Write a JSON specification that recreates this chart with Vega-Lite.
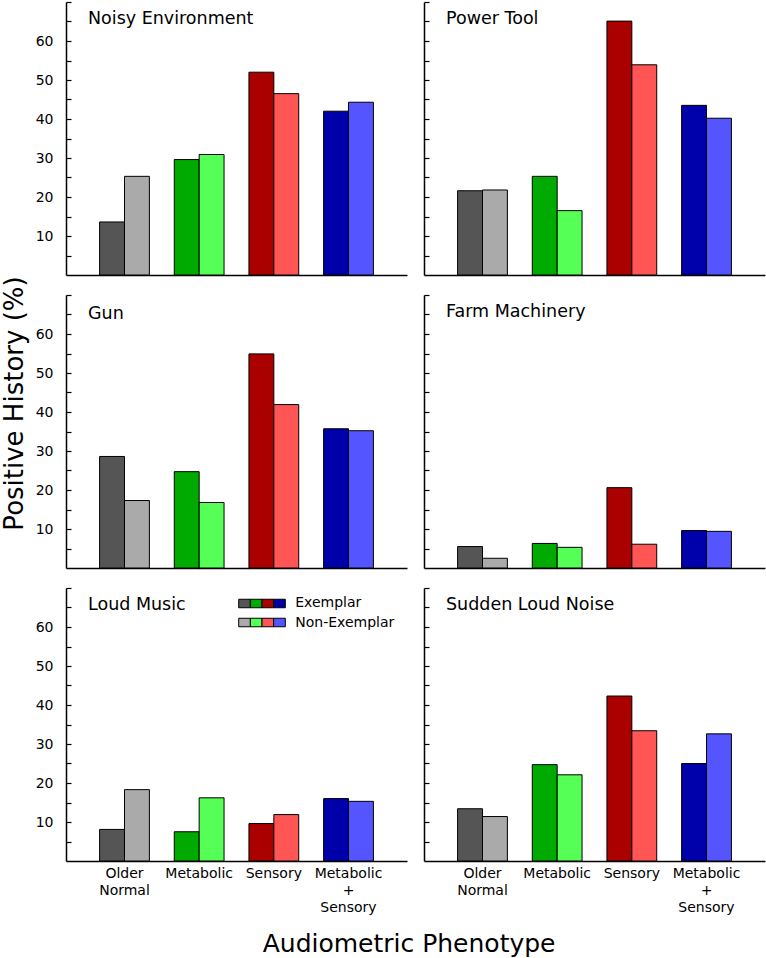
{
  "$schema": "https://vega.github.io/schema/vega-lite/v6.json",
  "padding": {"left": 1, "top": 1, "right": 2, "bottom": 2},
  "datasets": {
    "bars": [
      {"panel": "Noisy Environment", "phenotype": "Older Normal", "group": "Exemplar", "key": "Older Normal Exemplar", "pct": 13.6},
      {"panel": "Noisy Environment", "phenotype": "Older Normal", "group": "Non-Exemplar", "key": "Older Normal Non-Exemplar", "pct": 25.3},
      {"panel": "Noisy Environment", "phenotype": "Metabolic", "group": "Exemplar", "key": "Metabolic Exemplar", "pct": 29.6},
      {"panel": "Noisy Environment", "phenotype": "Metabolic", "group": "Non-Exemplar", "key": "Metabolic Non-Exemplar", "pct": 30.9},
      {"panel": "Noisy Environment", "phenotype": "Sensory", "group": "Exemplar", "key": "Sensory Exemplar", "pct": 52.0},
      {"panel": "Noisy Environment", "phenotype": "Sensory", "group": "Non-Exemplar", "key": "Sensory Non-Exemplar", "pct": 46.5},
      {"panel": "Noisy Environment", "phenotype": "Metabolic + Sensory", "group": "Exemplar", "key": "Metabolic + Sensory Exemplar", "pct": 42.0},
      {"panel": "Noisy Environment", "phenotype": "Metabolic + Sensory", "group": "Non-Exemplar", "key": "Metabolic + Sensory Non-Exemplar", "pct": 44.3},

      {"panel": "Power Tool", "phenotype": "Older Normal", "group": "Exemplar", "key": "Older Normal Exemplar", "pct": 21.6},
      {"panel": "Power Tool", "phenotype": "Older Normal", "group": "Non-Exemplar", "key": "Older Normal Non-Exemplar", "pct": 21.8},
      {"panel": "Power Tool", "phenotype": "Metabolic", "group": "Exemplar", "key": "Metabolic Exemplar", "pct": 25.3},
      {"panel": "Power Tool", "phenotype": "Metabolic", "group": "Non-Exemplar", "key": "Metabolic Non-Exemplar", "pct": 16.5},
      {"panel": "Power Tool", "phenotype": "Sensory", "group": "Exemplar", "key": "Sensory Exemplar", "pct": 65.1},
      {"panel": "Power Tool", "phenotype": "Sensory", "group": "Non-Exemplar", "key": "Sensory Non-Exemplar", "pct": 53.9},
      {"panel": "Power Tool", "phenotype": "Metabolic + Sensory", "group": "Exemplar", "key": "Metabolic + Sensory Exemplar", "pct": 43.5},
      {"panel": "Power Tool", "phenotype": "Metabolic + Sensory", "group": "Non-Exemplar", "key": "Metabolic + Sensory Non-Exemplar", "pct": 40.2},

      {"panel": "Gun", "phenotype": "Older Normal", "group": "Exemplar", "key": "Older Normal Exemplar", "pct": 28.6},
      {"panel": "Gun", "phenotype": "Older Normal", "group": "Non-Exemplar", "key": "Older Normal Non-Exemplar", "pct": 17.3},
      {"panel": "Gun", "phenotype": "Metabolic", "group": "Exemplar", "key": "Metabolic Exemplar", "pct": 24.7},
      {"panel": "Gun", "phenotype": "Metabolic", "group": "Non-Exemplar", "key": "Metabolic Non-Exemplar", "pct": 16.8},
      {"panel": "Gun", "phenotype": "Sensory", "group": "Exemplar", "key": "Sensory Exemplar", "pct": 54.9},
      {"panel": "Gun", "phenotype": "Sensory", "group": "Non-Exemplar", "key": "Sensory Non-Exemplar", "pct": 41.9},
      {"panel": "Gun", "phenotype": "Metabolic + Sensory", "group": "Exemplar", "key": "Metabolic + Sensory Exemplar", "pct": 35.7},
      {"panel": "Gun", "phenotype": "Metabolic + Sensory", "group": "Non-Exemplar", "key": "Metabolic + Sensory Non-Exemplar", "pct": 35.2},

      {"panel": "Farm Machinery", "phenotype": "Older Normal", "group": "Exemplar", "key": "Older Normal Exemplar", "pct": 5.5},
      {"panel": "Farm Machinery", "phenotype": "Older Normal", "group": "Non-Exemplar", "key": "Older Normal Non-Exemplar", "pct": 2.5},
      {"panel": "Farm Machinery", "phenotype": "Metabolic", "group": "Exemplar", "key": "Metabolic Exemplar", "pct": 6.3},
      {"panel": "Farm Machinery", "phenotype": "Metabolic", "group": "Non-Exemplar", "key": "Metabolic Non-Exemplar", "pct": 5.3},
      {"panel": "Farm Machinery", "phenotype": "Sensory", "group": "Exemplar", "key": "Sensory Exemplar", "pct": 20.6},
      {"panel": "Farm Machinery", "phenotype": "Sensory", "group": "Non-Exemplar", "key": "Sensory Non-Exemplar", "pct": 6.1},
      {"panel": "Farm Machinery", "phenotype": "Metabolic + Sensory", "group": "Exemplar", "key": "Metabolic + Sensory Exemplar", "pct": 9.6},
      {"panel": "Farm Machinery", "phenotype": "Metabolic + Sensory", "group": "Non-Exemplar", "key": "Metabolic + Sensory Non-Exemplar", "pct": 9.4},

      {"panel": "Loud Music", "phenotype": "Older Normal", "group": "Exemplar", "key": "Older Normal Exemplar", "pct": 8.1},
      {"panel": "Loud Music", "phenotype": "Older Normal", "group": "Non-Exemplar", "key": "Older Normal Non-Exemplar", "pct": 18.3},
      {"panel": "Loud Music", "phenotype": "Metabolic", "group": "Exemplar", "key": "Metabolic Exemplar", "pct": 7.5},
      {"panel": "Loud Music", "phenotype": "Metabolic", "group": "Non-Exemplar", "key": "Metabolic Non-Exemplar", "pct": 16.2},
      {"panel": "Loud Music", "phenotype": "Sensory", "group": "Exemplar", "key": "Sensory Exemplar", "pct": 9.6},
      {"panel": "Loud Music", "phenotype": "Sensory", "group": "Non-Exemplar", "key": "Sensory Non-Exemplar", "pct": 11.9},
      {"panel": "Loud Music", "phenotype": "Metabolic + Sensory", "group": "Exemplar", "key": "Metabolic + Sensory Exemplar", "pct": 16.0},
      {"panel": "Loud Music", "phenotype": "Metabolic + Sensory", "group": "Non-Exemplar", "key": "Metabolic + Sensory Non-Exemplar", "pct": 15.3},

      {"panel": "Sudden Loud Noise", "phenotype": "Older Normal", "group": "Exemplar", "key": "Older Normal Exemplar", "pct": 13.4},
      {"panel": "Sudden Loud Noise", "phenotype": "Older Normal", "group": "Non-Exemplar", "key": "Older Normal Non-Exemplar", "pct": 11.4},
      {"panel": "Sudden Loud Noise", "phenotype": "Metabolic", "group": "Exemplar", "key": "Metabolic Exemplar", "pct": 24.7},
      {"panel": "Sudden Loud Noise", "phenotype": "Metabolic", "group": "Non-Exemplar", "key": "Metabolic Non-Exemplar", "pct": 22.1},
      {"panel": "Sudden Loud Noise", "phenotype": "Sensory", "group": "Exemplar", "key": "Sensory Exemplar", "pct": 42.3},
      {"panel": "Sudden Loud Noise", "phenotype": "Sensory", "group": "Non-Exemplar", "key": "Sensory Non-Exemplar", "pct": 33.4},
      {"panel": "Sudden Loud Noise", "phenotype": "Metabolic + Sensory", "group": "Exemplar", "key": "Metabolic + Sensory Exemplar", "pct": 25.0},
      {"panel": "Sudden Loud Noise", "phenotype": "Metabolic + Sensory", "group": "Non-Exemplar", "key": "Metabolic + Sensory Non-Exemplar", "pct": 32.6}
    ]
  },
  "title": {
    "text": "Audiometric Phenotype",
    "orient": "bottom",
    "anchor": "middle",
    "frame": "bounds",
    "fontSize": 25,
    "fontWeight": "normal",
    "baseline": "top",
    "offset": 18,
    "dx": 26,
    "dy": 0,
    "color": "black"
  },
  "columns": 2,
  "spacing": {"row": 20, "column": 17},
  "bounds": "flush",
  "resolve": {
    "scale": {"fill": "independent", "x": "independent", "y": "independent", "xOffset": "independent"},
    "axis": {"x": "independent", "y": "independent"},
    "legend": {"fill": "independent"}
  },
  "concat": [
    {
      "width": 341, "height": 273,
      "data": {"name": "bars"},
      "transform": [{"filter": "datum.panel == 'Noisy Environment'"}],
      "title": {"text": "Noisy Environment"},
      "mark": {"type": "bar", "stroke": "black", "strokeWidth": 1},
      "encoding": {
        "x": {"field": "phenotype", "type": "nominal", "sort": null,
              "scale": {"domain": ["Older Normal", "Metabolic", "Sensory", "Metabolic + Sensory"], "paddingInner": 0.3333, "paddingOuter": 0.45},
              "axis": {"title": null, "ticks": false, "labels": false}},
        "xOffset": {"field": "group", "type": "nominal", "scale": {"domain": ["Exemplar", "Non-Exemplar"], "paddingInner": 0, "paddingOuter": 0}},
        "y": {"field": "pct", "type": "quantitative",
              "scale": {"domain": [0, 70], "nice": false, "zero": true},
              "axis": {"title": null, "values": [5, 10, 15, 20, 25, 30, 35, 40, 45, 50, 55, 60, 65, 70], "labelExpr": "datum.value % 10 === 0 && datum.value < 70 ? datum.label : ''", "tickSize": -5, "labelPadding": 18}},
        "fill": {"field": "key", "type": "nominal",
                 "scale": {"domain": ["Older Normal Exemplar", "Older Normal Non-Exemplar", "Metabolic Exemplar", "Metabolic Non-Exemplar", "Sensory Exemplar", "Sensory Non-Exemplar", "Metabolic + Sensory Exemplar", "Metabolic + Sensory Non-Exemplar"],
                           "range": ["#555555", "#aaaaaa", "#00aa00", "#55ff55", "#aa0000", "#ff5555", "#0000aa", "#5555ff"]},
                 "legend": null}
      }
    },
    {
      "width": 341, "height": 273,
      "data": {"name": "bars"},
      "transform": [{"filter": "datum.panel == 'Power Tool'"}],
      "title": {"text": "Power Tool"},
      "mark": {"type": "bar", "stroke": "black", "strokeWidth": 1},
      "encoding": {
        "x": {"field": "phenotype", "type": "nominal", "sort": null,
              "scale": {"domain": ["Older Normal", "Metabolic", "Sensory", "Metabolic + Sensory"], "paddingInner": 0.3333, "paddingOuter": 0.45},
              "axis": {"title": null, "ticks": false, "labels": false}},
        "xOffset": {"field": "group", "type": "nominal", "scale": {"domain": ["Exemplar", "Non-Exemplar"], "paddingInner": 0, "paddingOuter": 0}},
        "y": {"field": "pct", "type": "quantitative",
              "scale": {"domain": [0, 70], "nice": false, "zero": true},
              "axis": {"title": null, "values": [5, 10, 15, 20, 25, 30, 35, 40, 45, 50, 55, 60, 65, 70], "labels": false, "tickSize": -5}},
        "fill": {"field": "key", "type": "nominal",
                 "scale": {"domain": ["Older Normal Exemplar", "Older Normal Non-Exemplar", "Metabolic Exemplar", "Metabolic Non-Exemplar", "Sensory Exemplar", "Sensory Non-Exemplar", "Metabolic + Sensory Exemplar", "Metabolic + Sensory Non-Exemplar"],
                           "range": ["#555555", "#aaaaaa", "#00aa00", "#55ff55", "#aa0000", "#ff5555", "#0000aa", "#5555ff"]},
                 "legend": null}
      }
    },
    {
      "width": 341, "height": 273,
      "data": {"name": "bars"},
      "transform": [{"filter": "datum.panel == 'Gun'"}],
      "title": {"text": "Gun", "offset": -46.5},
      "mark": {"type": "bar", "stroke": "black", "strokeWidth": 1},
      "encoding": {
        "x": {"field": "phenotype", "type": "nominal", "sort": null,
              "scale": {"domain": ["Older Normal", "Metabolic", "Sensory", "Metabolic + Sensory"], "paddingInner": 0.3333, "paddingOuter": 0.45},
              "axis": {"title": null, "ticks": false, "labels": false}},
        "xOffset": {"field": "group", "type": "nominal", "scale": {"domain": ["Exemplar", "Non-Exemplar"], "paddingInner": 0, "paddingOuter": 0}},
        "y": {"field": "pct", "type": "quantitative",
              "scale": {"domain": [0, 70], "nice": false, "zero": true},
              "axis": {"title": "Positive History (%)", "titleFontSize": 26, "titleFontWeight": "normal", "titlePadding": 8, "titleY": 108,
                       "values": [5, 10, 15, 20, 25, 30, 35, 40, 45, 50, 55, 60, 65, 70], "labelExpr": "datum.value % 10 === 0 && datum.value < 70 ? datum.label : ''", "tickSize": -5, "labelPadding": 18}},
        "fill": {"field": "key", "type": "nominal",
                 "scale": {"domain": ["Older Normal Exemplar", "Older Normal Non-Exemplar", "Metabolic Exemplar", "Metabolic Non-Exemplar", "Sensory Exemplar", "Sensory Non-Exemplar", "Metabolic + Sensory Exemplar", "Metabolic + Sensory Non-Exemplar"],
                           "range": ["#555555", "#aaaaaa", "#00aa00", "#55ff55", "#aa0000", "#ff5555", "#0000aa", "#5555ff"]},
                 "legend": null}
      }
    },
    {
      "width": 341, "height": 273,
      "data": {"name": "bars"},
      "transform": [{"filter": "datum.panel == 'Farm Machinery'"}],
      "title": {"text": "Farm Machinery"},
      "mark": {"type": "bar", "stroke": "black", "strokeWidth": 1},
      "encoding": {
        "x": {"field": "phenotype", "type": "nominal", "sort": null,
              "scale": {"domain": ["Older Normal", "Metabolic", "Sensory", "Metabolic + Sensory"], "paddingInner": 0.3333, "paddingOuter": 0.45},
              "axis": {"title": null, "ticks": false, "labels": false}},
        "xOffset": {"field": "group", "type": "nominal", "scale": {"domain": ["Exemplar", "Non-Exemplar"], "paddingInner": 0, "paddingOuter": 0}},
        "y": {"field": "pct", "type": "quantitative",
              "scale": {"domain": [0, 70], "nice": false, "zero": true},
              "axis": {"title": null, "values": [5, 10, 15, 20, 25, 30, 35, 40, 45, 50, 55, 60, 65, 70], "labels": false, "tickSize": -5}},
        "fill": {"field": "key", "type": "nominal",
                 "scale": {"domain": ["Older Normal Exemplar", "Older Normal Non-Exemplar", "Metabolic Exemplar", "Metabolic Non-Exemplar", "Sensory Exemplar", "Sensory Non-Exemplar", "Metabolic + Sensory Exemplar", "Metabolic + Sensory Non-Exemplar"],
                           "range": ["#555555", "#aaaaaa", "#00aa00", "#55ff55", "#aa0000", "#ff5555", "#0000aa", "#5555ff"]},
                 "legend": null}
      }
    },
    {
      "width": 341, "height": 273,
      "data": {"name": "bars"},
      "transform": [{"filter": "datum.panel == 'Loud Music'"}],
      "title": {"text": "Loud Music"},
      "resolve": {"scale": {"x": "independent", "y": "independent"}, "axis": {"x": "independent", "y": "independent"}},
      "layer": [
        {
          "mark": {"type": "bar", "stroke": "black", "strokeWidth": 1},
          "encoding": {
            "x": {"field": "phenotype", "type": "nominal", "sort": null,
                  "scale": {"domain": ["Older Normal", "Metabolic", "Sensory", "Metabolic + Sensory"], "paddingInner": 0.3333, "paddingOuter": 0.45},
                  "axis": {"title": null, "ticks": false, "labelAngle": 0, "labelPadding": 5, "labelFontSize": 14, "labelLineHeight": 17,
                           "labelExpr": "datum.label == 'Older Normal' ? ['Older', 'Normal'] : datum.label == 'Metabolic + Sensory' ? ['Metabolic', '+', 'Sensory'] : datum.label"}},
            "xOffset": {"field": "group", "type": "nominal", "scale": {"domain": ["Exemplar", "Non-Exemplar"], "paddingInner": 0, "paddingOuter": 0}},
            "y": {"field": "pct", "type": "quantitative",
                  "scale": {"domain": [0, 70], "nice": false, "zero": true},
                  "axis": {"title": null, "values": [5, 10, 15, 20, 25, 30, 35, 40, 45, 50, 55, 60, 65, 70], "labelExpr": "datum.value % 10 === 0 && datum.value < 70 ? datum.label : ''", "tickSize": -5, "labelPadding": 18}},
            "fill": {"field": "key", "type": "nominal",
                     "scale": {"domain": ["Older Normal Exemplar", "Older Normal Non-Exemplar", "Metabolic Exemplar", "Metabolic Non-Exemplar", "Sensory Exemplar", "Sensory Non-Exemplar", "Metabolic + Sensory Exemplar", "Metabolic + Sensory Non-Exemplar"],
                               "range": ["#555555", "#aaaaaa", "#00aa00", "#55ff55", "#aa0000", "#ff5555", "#0000aa", "#5555ff"]},
                     "legend": null}
          }
        },
        {
          "mark": {"type": "rect", "stroke": "black", "strokeWidth": 1},
          "encoding": {
            "x": {"field": "phenotype", "type": "nominal", "sort": null,
                  "scale": {"type": "band", "domain": ["Older Normal", "Metabolic", "Sensory", "Metabolic + Sensory"], "range": [172.7, 219.3], "paddingInner": 0, "paddingOuter": 0},
                  "axis": null},
            "y": {"field": "group", "type": "nominal", "sort": null,
                  "scale": {"type": "band", "domain": ["Exemplar", "Non-Exemplar"], "range": [11.25, 38.75], "paddingInner": 0.553, "paddingOuter": 0},
                  "axis": null},
            "fill": {"field": "key", "type": "nominal",
                     "scale": {"domain": ["Older Normal Exemplar", "Older Normal Non-Exemplar", "Metabolic Exemplar", "Metabolic Non-Exemplar", "Sensory Exemplar", "Sensory Non-Exemplar", "Metabolic + Sensory Exemplar", "Metabolic + Sensory Non-Exemplar"],
                               "range": ["#555555", "#aaaaaa", "#00aa00", "#55ff55", "#aa0000", "#ff5555", "#0000aa", "#5555ff"]},
                     "legend": null}
          }
        },
        {
          "transform": [{"filter": "datum.phenotype == 'Metabolic + Sensory'"}],
          "mark": {"type": "text", "align": "left", "baseline": "middle", "dx": 15.8, "fontSize": 14, "font": "DejaVu Sans", "color": "black"},
          "encoding": {
            "x": {"field": "phenotype", "type": "nominal", "sort": null,
                  "scale": {"type": "band", "domain": ["Older Normal", "Metabolic", "Sensory", "Metabolic + Sensory"], "range": [172.7, 219.3], "paddingInner": 0, "paddingOuter": 0},
                  "axis": null},
            "y": {"field": "group", "type": "nominal", "sort": null,
                  "scale": {"type": "band", "domain": ["Exemplar", "Non-Exemplar"], "range": [11.25, 38.75], "paddingInner": 0.553, "paddingOuter": 0},
                  "axis": null},
            "text": {"field": "group", "type": "nominal"}
          }
        }
      ]
    },
    {
      "width": 341, "height": 273,
      "data": {"name": "bars"},
      "transform": [{"filter": "datum.panel == 'Sudden Loud Noise'"}],
      "title": {"text": "Sudden Loud Noise"},
      "mark": {"type": "bar", "stroke": "black", "strokeWidth": 1},
      "encoding": {
        "x": {"field": "phenotype", "type": "nominal", "sort": null,
              "scale": {"domain": ["Older Normal", "Metabolic", "Sensory", "Metabolic + Sensory"], "paddingInner": 0.3333, "paddingOuter": 0.45},
              "axis": {"title": null, "ticks": false, "labelAngle": 0, "labelPadding": 5, "labelFontSize": 14, "labelLineHeight": 17,
                       "labelExpr": "datum.label == 'Older Normal' ? ['Older', 'Normal'] : datum.label == 'Metabolic + Sensory' ? ['Metabolic', '+', 'Sensory'] : datum.label"}},
        "xOffset": {"field": "group", "type": "nominal", "scale": {"domain": ["Exemplar", "Non-Exemplar"], "paddingInner": 0, "paddingOuter": 0}},
        "y": {"field": "pct", "type": "quantitative",
              "scale": {"domain": [0, 70], "nice": false, "zero": true},
              "axis": {"title": null, "values": [5, 10, 15, 20, 25, 30, 35, 40, 45, 50, 55, 60, 65, 70], "labels": false, "tickSize": -5}},
        "fill": {"field": "key", "type": "nominal",
                 "scale": {"domain": ["Older Normal Exemplar", "Older Normal Non-Exemplar", "Metabolic Exemplar", "Metabolic Non-Exemplar", "Sensory Exemplar", "Sensory Non-Exemplar", "Metabolic + Sensory Exemplar", "Metabolic + Sensory Non-Exemplar"],
                           "range": ["#555555", "#aaaaaa", "#00aa00", "#55ff55", "#aa0000", "#ff5555", "#0000aa", "#5555ff"]},
                 "legend": null}
      }
    }
  ],
  "config": {
    "font": "DejaVu Sans",
    "view": {"stroke": null},
    "axis": {"grid": false, "domainColor": "black", "domainWidth": 1.5, "tickColor": "black", "tickWidth": 1.2,
             "labelColor": "black", "titleColor": "black", "labelFont": "DejaVu Sans", "titleFont": "DejaVu Sans", "labelFontSize": 14},
    "title": {"anchor": "start", "frame": "group", "dx": 22, "offset": -26, "baseline": "alphabetic", "fontSize": 17.5, "fontWeight": "normal", "font": "DejaVu Sans", "color": "black"}
  }
}
